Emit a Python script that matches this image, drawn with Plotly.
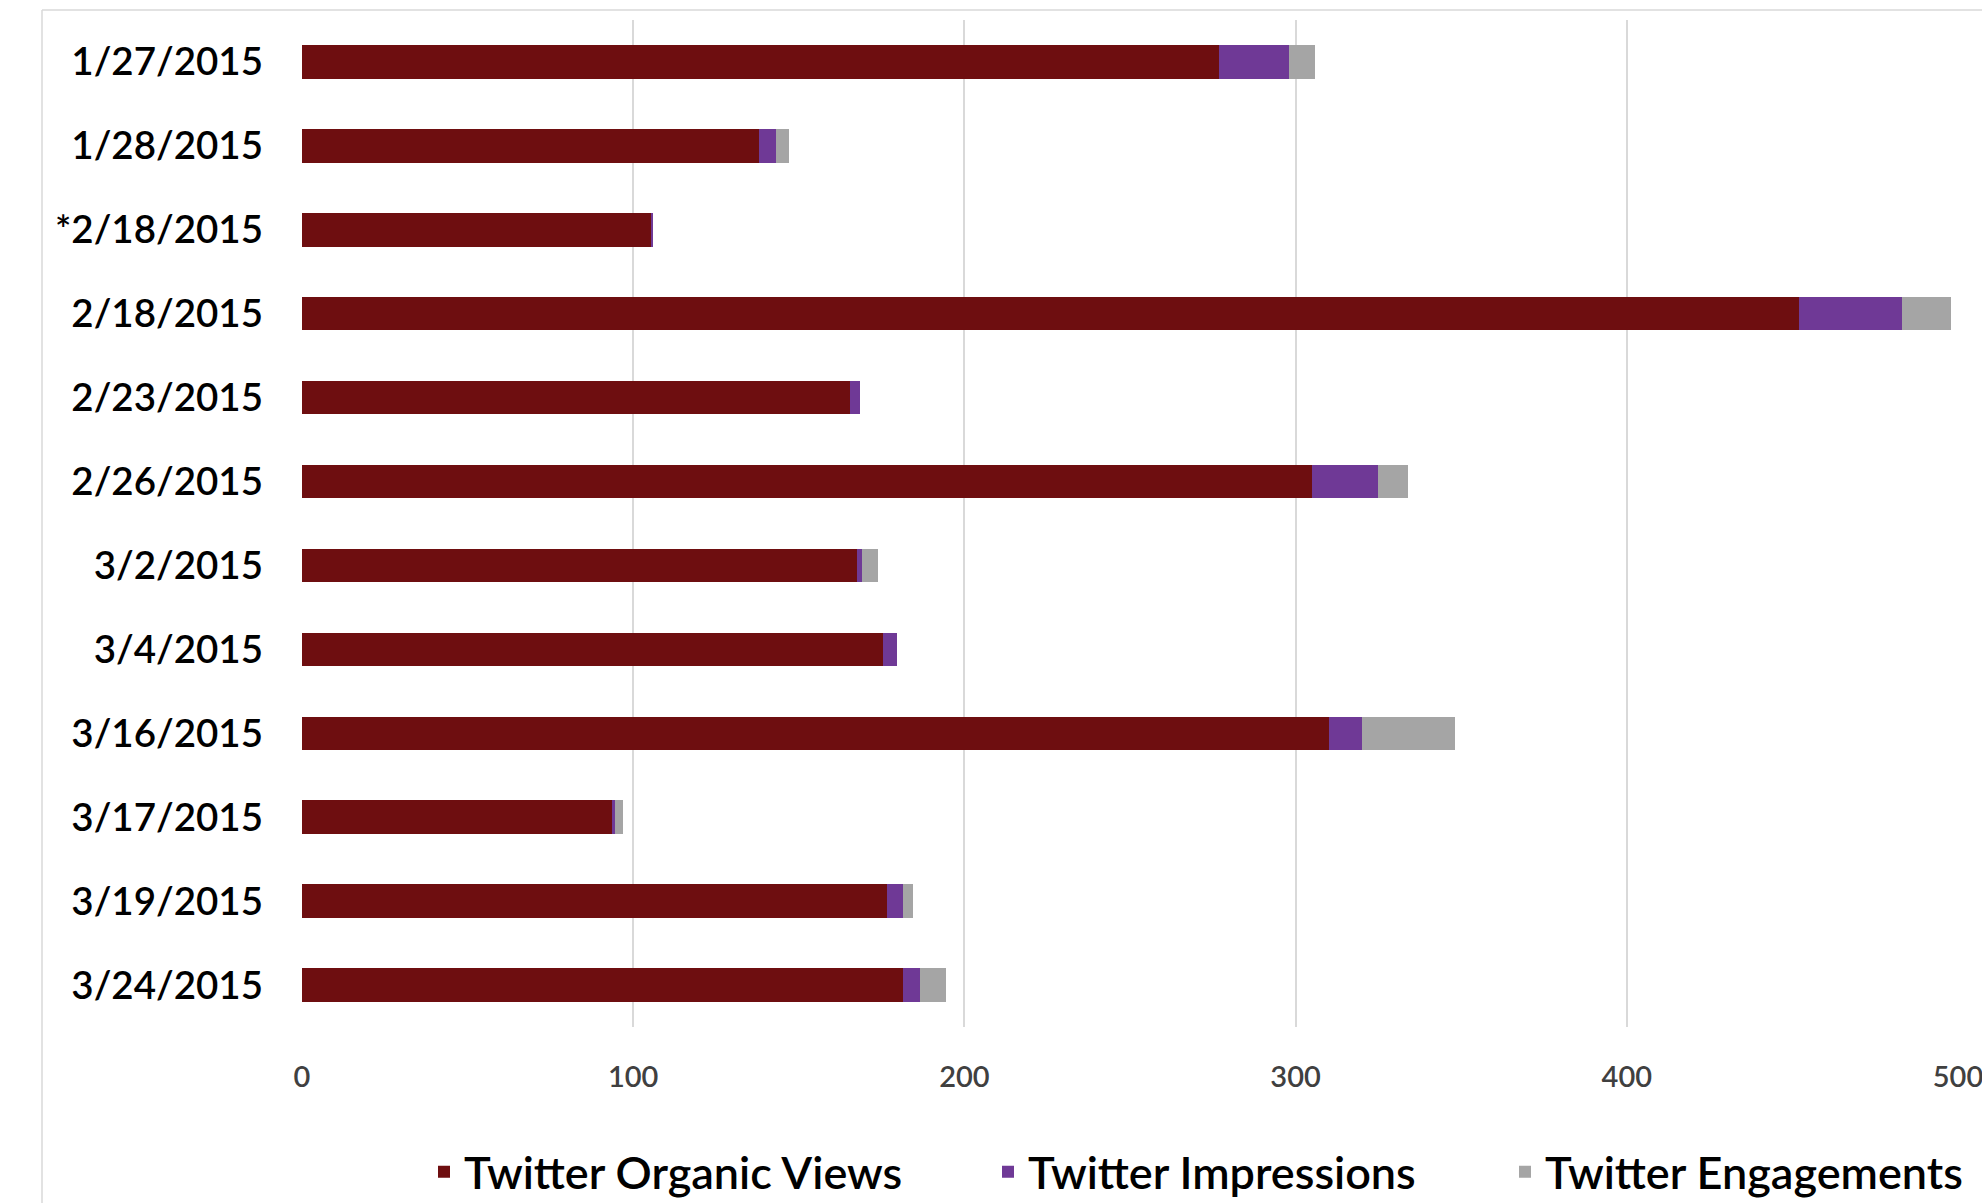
import plotly.graph_objects as go

dates = ["1/27/2015", "1/28/2015", "*2/18/2015", "2/18/2015", "2/23/2015", "2/26/2015",
         "3/2/2015", "3/4/2015", "3/16/2015", "3/17/2015", "3/19/2015", "3/24/2015"]
organic_views = [277, 138, 105.5, 452, 165.5, 305, 167.5, 175.5, 310, 93.5, 176.5, 181.5]
impressions = [21, 5, 0.5, 31, 3, 20, 1.5, 4, 10, 1, 5, 5]
engagements = [8, 4, 0, 15, 0, 9, 5, 0, 28, 2.5, 3, 8]
x_ticks = [0, 100, 200, 300, 400, 500]

series_names = ["Twitter Organic Views", "Twitter Impressions", "Twitter Engagements"]
series_colors = ["#6E0E10", "#6F3996", "#A5A5A5"]
series_values = [organic_views, impressions, engagements]
legend_ids = ["legend", "legend2", "legend3"]

W, H = 1982, 1203
ML, MR, MT, MB = 302, 23, 20, 176
FAMILY = "Lato, 'Open Sans', sans-serif"

fig = go.Figure()
for name, color, vals, lg in zip(series_names, series_colors, series_values, legend_ids):
    fig.add_trace(go.Bar(
        y=dates, x=vals, name=name, orientation="h",
        marker=dict(color=color, line=dict(width=0)),
        legend=lg, showlegend=True,
    ))

legend_font = dict(family=FAMILY, size=45, color="#000000", weight=600)
legend_y = 1 - 1172 / H
legend_common = dict(orientation="h", yref="container", xref="container",
                     y=legend_y, yanchor="middle", xanchor="left",
                     font=legend_font, bgcolor="rgba(0,0,0,0)", borderwidth=0,
                     visible=True)

# chart-area border (left and top)
px_w = W - ML - MR
px_h = H - MT - MB
bx = (42 - ML) / px_w
by = (H - MB - 10) / px_h

fig.update_layout(
    width=W, height=H,
    margin=dict(l=ML, r=MR, t=MT, b=MB, autoexpand=False),
    barmode="stack",
    bargap=0.6,
    showlegend=True,
    plot_bgcolor="white",
    paper_bgcolor="white",
    font=dict(family=FAMILY, color="#000000"),
    legend=dict(x=424 / W, **legend_common),
    legend2=dict(x=988 / W, **legend_common),
    legend3=dict(x=1505 / W, **legend_common),
    xaxis=dict(
        range=[0, 500.3], tickvals=x_ticks, ticktext=[str(v) for v in x_ticks],
        showgrid=True, gridcolor="#D9D9D9", gridwidth=1.5,
        zeroline=False, showline=False, ticks="",
        tickfont=dict(family=FAMILY, size=29, color="#404040", weight=600),
        ticklabelstandoff=30, ticklabeloverflow="allow", automargin=False,
    ),
    yaxis=dict(
        categoryorder="array", categoryarray=dates, autorange="reversed",
        showgrid=False, zeroline=False, showline=False, ticks="",
        tickfont=dict(family=FAMILY, size=38.5, color="#000000", weight=600),
        ticklabelstandoff=38, automargin=False,
    ),
    shapes=[
        dict(type="line", xref="paper", yref="paper", x0=bx, x1=bx, y0=-0.3, y1=by,
             line=dict(color="#D9D9D9", width=1.5)),
        dict(type="line", xref="paper", yref="paper", x0=bx, x1=1.1, y0=by, y1=by,
             line=dict(color="#D9D9D9", width=1.5)),
    ],
)

fig.write_html("out.html")
